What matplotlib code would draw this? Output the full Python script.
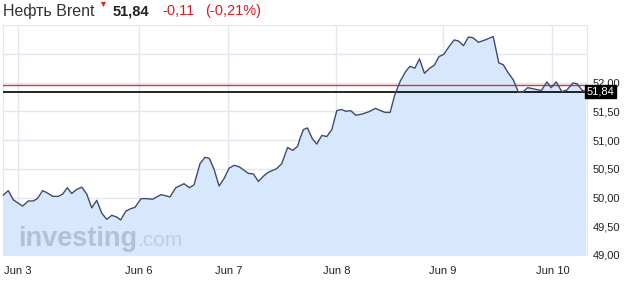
import matplotlib
matplotlib.use("Agg")
import matplotlib.pyplot as plt

plt.rcParams['font.family'] = ['Liberation Sans', 'DejaVu Sans']

# hours from the Jun 3 grid line (compressed trading time)
hours = [-3.27, -2.16, -1.04, 0.07, 1.04, 2.29, 3.4, 4.29, 5.49, 6.51, 7.71, 8.96, 9.93,
         10.96, 11.93, 13.04, 14.16, 15.27, 16.38, 17.49, 18.6, 19.71, 20.82, 21.93, 22.82,
         23.93, 24.89, 26.0, 27.33, 28.6, 29.93, 31.78, 33.78, 35.04, 36.89, 38.07, 39.11,
         40.44, 41.56, 42.51, 43.56, 44.67, 45.78, 46.89, 48.07, 49.22, 51.18, 52.29, 53.4,
         54.51, 55.62, 57.44, 58.6, 59.89, 61.04, 62.11, 62.67, 63.4, 64.29, 65.4, 66.38,
         67.49, 68.6, 69.71, 70.82, 71.84, 72.84, 73.93, 75.04, 76.38, 77.89, 79.44, 80.56,
         81.56, 82.67, 83.71, 84.96, 86.11, 87.04, 88.16, 89.18, 90.29, 91.49, 92.49, 93.51,
         94.6, 95.71, 96.89, 97.89, 98.96, 100.07, 101.04, 102.29, 103.78, 105.56, 106.82,
         107.78, 108.89, 110.0, 111.11, 112.07, 113.22, 114.51, 116.27, 117.49, 118.44,
         119.56, 120.82, 121.93, 123.27, 124.16, 125.27, 126.11]
price = [50.04, 50.12, 49.96, 49.90, 49.85, 49.94, 49.94, 49.98, 50.12, 50.08, 50.02, 50.02, 50.06,
         50.17, 50.07, 50.14, 50.18, 50.06, 49.82, 49.95, 49.73, 49.62, 49.69, 49.66, 49.61,
         49.76, 49.80, 49.83, 49.98, 49.98, 49.97, 50.05, 50.01, 50.17, 50.24, 50.17, 50.22,
         50.59, 50.70, 50.68, 50.49, 50.20, 50.33, 50.51, 50.56, 50.53, 50.42, 50.41, 50.28,
         50.37, 50.44, 50.50, 50.59, 50.87, 50.82, 50.89, 51.03, 51.18, 51.21, 51.02, 50.93,
         51.08, 51.06, 51.18, 51.51, 51.53, 51.50, 51.51, 51.43, 51.45, 51.49, 51.55, 51.51,
         51.48, 51.48, 51.79, 52.03, 52.19, 52.28, 52.25, 52.41, 52.16, 52.25, 52.30, 52.45,
         52.49, 52.62, 52.74, 52.72, 52.64, 52.79, 52.78, 52.70, 52.74, 52.80, 52.34,
         52.31, 52.17, 52.05, 51.84, 51.83, 51.91, 51.89, 51.86, 52.01, 51.91,
         52.01, 51.84, 51.87, 51.99, 51.98, 51.87, 51.84]

day_ticks = [0, 26.9, 46.7, 70.7, 94.4, 118.7]
day_labels = ["Jun 3", "Jun 6", "Jun 7", "Jun 8", "Jun 9", "Jun 10"]
y_ticks = [49.0, 49.5, 50.0, 50.5, 51.0, 51.5, 52.0, 52.5]
last_price = 51.84
prev_close = 51.95

fig = plt.figure(figsize=(6.36, 2.92), dpi=100)
ax = fig.add_axes([3/636, 1-255/292, 584/636, 230/292])

ax.fill_between(hours, price, 49.0, color="#d7e8fc", lw=0, zorder=1)
ax.plot(hours, price, color="#3d4a74", lw=1.0, zorder=4)
ax.axhline(prev_close, color="#d0393b", lw=1.0, zorder=3)
ax.axhline(last_price, color="black", lw=1.2, zorder=3)

ax.set_xlim(-3.33, 126.4)
ax.set_ylim(49.0, 53.0)
ax.set_xticks(day_ticks)
ax.set_xticklabels(day_labels)
ax.set_yticks(y_ticks)
ax.set_yticklabels([("%.2f" % v).replace(".", ",") if v <= 52 else "" for v in y_ticks])
ax.yaxis.tick_right()
ax.tick_params(axis="both", length=0, labelsize=8, colors="#222222")
ax.tick_params(axis="x", pad=8)
ax.tick_params(axis="y", pad=4)
ax.grid(True, color="#e3e6ec", lw=1.0, zorder=0)
ax.set_axisbelow(True)
for s in ax.spines.values():
    s.set_color("#e3e6ec")

# last price tag
ax.text(1.0, last_price, ("%.2f" % last_price).replace(".", ","), transform=ax.get_yaxis_transform(),
        ha="left", va="center", color="white", fontsize=8, zorder=6,
        bbox=dict(boxstyle="square,pad=0.15", fc="black", ec="black"))

# watermark
ax.text(0.026, 0.04, "investing", transform=ax.transAxes, fontsize=19.5, fontweight="bold",
        color="#b3bfd0", alpha=0.95, zorder=2)
ax.text(0.229, 0.04, ".com", transform=ax.transAxes, fontsize=15,
        color="#c3cedc", zorder=2)

# header
fig.text(3/636, 1-11/292, "Нефть Brent", fontsize=11.5, color="#333333", va="center")
fig.text(98/636, 1-4/292, "▼", fontsize=6.5, color="#e0262b", va="center")
fig.text(113/636, 1-11/292, "51,84", fontsize=10.5, fontweight="bold", color="#222222", va="center")
fig.text(162/636, 1-11/292, "-0,11", fontsize=10.5, color="#e8161d", va="center")
fig.text(205/636, 1-11/292, "(-0,21%)", fontsize=10.5, color="#e8161d", va="center")

fig.savefig("out.png", dpi=100)
